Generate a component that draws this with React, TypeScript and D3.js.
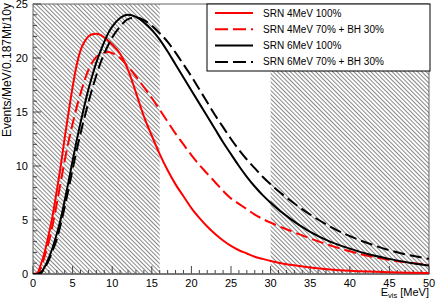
import React from "react";
import * as d3 from "d3";

const energy = [0, 0.5, 1, 1.5, 2, 2.5, 3, 3.5, 4, 4.5, 5, 5.5, 6, 6.5, 7, 7.5, 8, 8.5, 9, 9.5, 10, 11, 12, 13, 14, 15, 16, 17, 18, 19, 20, 21, 22, 23, 24, 25, 26, 27, 28, 29, 30, 32.5, 35, 37.5, 40, 42.5, 45, 47.5, 50];

const srn4 = [0, 0.05, 0.9, 2.1, 3.7, 5.5, 7.7, 10.0, 12.6, 15.0, 17.3, 19.3, 20.7, 21.5, 22.0, 22.2, 22.25, 22.15, 21.9, 21.6, 21.25, 20.4, 18.9, 16.8, 14.6, 12.8, 11.1, 9.6, 8.3, 7.2, 6.1, 5.2, 4.4, 3.7, 3.1, 2.6, 2.2, 1.9, 1.6, 1.4, 1.2, 0.85, 0.6, 0.42, 0.3, 0.22, 0.16, 0.12, 0.09];
const srn4bh = [0, 0.05, 0.6, 1.7, 3.0, 4.6, 6.5, 8.5, 10.5, 12.3, 13.9, 15.4, 16.7, 17.9, 18.9, 19.6, 20.1, 20.35, 20.5, 20.55, 20.45, 20.0, 19.2, 18.3, 17.3, 16.3, 15.2, 14.1, 13.0, 12.0, 11.0, 10.1, 9.3, 8.5, 7.7, 7.0, 6.5, 6.0, 5.5, 5.1, 4.75, 4.0, 3.3, 2.65, 2.1, 1.65, 1.3, 1.05, 0.85];
const srn6 = [0, 0, 0.15, 0.7, 1.5, 2.5, 3.7, 5.1, 6.8, 8.6, 10.5, 12.3, 14.0, 15.6, 17.1, 18.4, 19.6, 20.6, 21.5, 22.3, 22.9, 23.7, 24.0, 23.8, 23.3, 22.6, 21.7, 20.6, 19.4, 18.2, 17.0, 15.8, 14.6, 13.4, 12.2, 11.1, 10.0, 9.0, 8.1, 7.3, 6.6, 5.1, 3.9, 3.0, 2.35, 1.8, 1.4, 1.05, 0.78];
const srn6bh = [0, 0, 0.1, 0.6, 1.3, 2.2, 3.2, 4.6, 6.2, 7.9, 9.7, 11.4, 13.0, 14.5, 15.9, 17.2, 18.4, 19.5, 20.4, 21.2, 21.9, 22.9, 23.6, 23.75, 23.5, 23.0, 22.3, 21.5, 20.5, 19.4, 18.3, 17.1, 15.9, 14.7, 13.6, 12.5, 11.5, 10.6, 9.8, 9.0, 8.3, 6.8, 5.5, 4.4, 3.5, 2.8, 2.2, 1.75, 1.4];

const seriesNames = ["SRN 4MeV 100%", "SRN 4MeV 70% + BH 30%", "SRN 6MeV 100%", "SRN 6MeV 70% + BH 30%"];
const seriesValues = [srn4, srn4bh, srn6, srn6bh];
const seriesColors = ["#ff0000", "#ff0000", "#000000", "#000000"];
const seriesDashed = [false, true, false, true];

// hatched (excluded) energy windows
const hatchRanges = [
  [0, 16],
  [30, 50],
];

const xTicks = [0, 5, 10, 15, 20, 25, 30, 35, 40, 45, 50];
const yTicks = [0, 5, 10, 15, 20, 25];

const W = 436;
const H = 300;
const m = { left: 33, right: 7, top: 4, bottom: 26 };
const font = "'Liberation Sans', Arial, Helvetica, sans-serif";

const App = () => {
  const x = d3.scaleLinear().domain([0, 50]).range([m.left, W - m.right]);
  const y = d3.scaleLinear().domain([0, 25]).range([H - m.bottom, m.top]);

  const line = d3
    .line<number>()
    .x((d, i) => x(energy[i]))
    .y((d) => y(d))
    .curve(d3.curveMonotoneX);

  const x0 = x(0);
  const x1 = x(50);
  const y0 = y(0);
  const y1 = y(25);

  const minorX = d3.range(0, 51, 1);
  const minorY = d3.range(0, 26, 1);

  const legX = 207;
  const legY = m.top;
  const legW = x1 - legX + 1;
  const legH = 67;

  return (
    <svg width={W} height={H} style={{ position: "absolute", left: 0, top: 0, background: "#fff" }} fontFamily={font}>
      <defs>
        <pattern id="hatch" patternUnits="userSpaceOnUse" width={3} height={3} patternTransform="rotate(-45)">
          <line x1={1.5} y1={0} x2={1.5} y2={3} stroke="#555" strokeWidth={0.7} />
        </pattern>
        <clipPath id="plot">
          <rect x={x0} y={y1} width={x1 - x0} height={y0 - y1} />
        </clipPath>
      </defs>

      {hatchRanges.map(([a, b], i) => (
        <rect key={i} x={x(a)} y={y1} width={x(b) - x(a)} height={y0 - y1} fill="url(#hatch)" />
      ))}

      {/* frame */}
      <rect x={x0} y={y1} width={x1 - x0} height={y0 - y1} fill="none" stroke="#666" strokeWidth={1} />

      {/* x ticks */}
      {minorX.map((v) => (
        <line key={"mx" + v} x1={x(v)} x2={x(v)} y1={y0} y2={y0 - (v % 5 === 0 ? 8 : 4)} stroke="#444" strokeWidth={1} />
      ))}
      {/* y ticks */}
      {minorY.map((v) => (
        <line key={"my" + v} x1={x0} x2={x0 + (v % 5 === 0 ? 8 : 4)} y1={y(v)} y2={y(v)} stroke="#444" strokeWidth={1} />
      ))}
      <line x1={x0} x2={x1} y1={y0} y2={y0} stroke="#666" strokeWidth={1.5} />

      {xTicks.map((v) => (
        <text key={"xt" + v} x={x(v)} y={y0 + 13} fontSize={11} textAnchor="middle">
          {v}
        </text>
      ))}
      {yTicks.map((v) => (
        <text key={"yt" + v} x={x0 - 5} y={y(v) + 4} fontSize={11} textAnchor="end">
          {v}
        </text>
      ))}

      <text x={x1} y={H - 4} fontSize={11} textAnchor="end">
        E<tspan fontSize={7.5} dy={2}>vis</tspan>
        <tspan dy={-2}> [MeV]</tspan>
      </text>
      <text transform={`translate(11,${y1 - 1}) rotate(-90)`} fontSize={12} textAnchor="end">
        Events/MeV/0.187Mt/10y
      </text>

      <g clipPath="url(#plot)">
        {seriesValues.map((vals, i) => (
          <path
            key={i}
            d={line(vals) || ""}
            fill="none"
            stroke={seriesColors[i]}
            strokeWidth={2}
            strokeDasharray={seriesDashed[i] ? "12 5" : undefined}
          />
        ))}
      </g>

      {/* legend */}
      <rect x={legX} y={legY} width={legW} height={legH} fill="#fff" stroke="#000" strokeWidth={1} />
      {seriesNames.map((name, i) => {
        const ry = legY + 9 + i * 16.3;
        return (
          <g key={name}>
            <line x1={215} x2={253} y1={ry} y2={ry} stroke={seriesColors[i]} strokeWidth={2} strokeDasharray={seriesDashed[i] ? "13 5" : undefined} />
            <text x={263} y={ry + 3.5} fontSize={10}>
              {name}
            </text>
          </g>
        );
      })}
    </svg>
  );
};

export default App;
